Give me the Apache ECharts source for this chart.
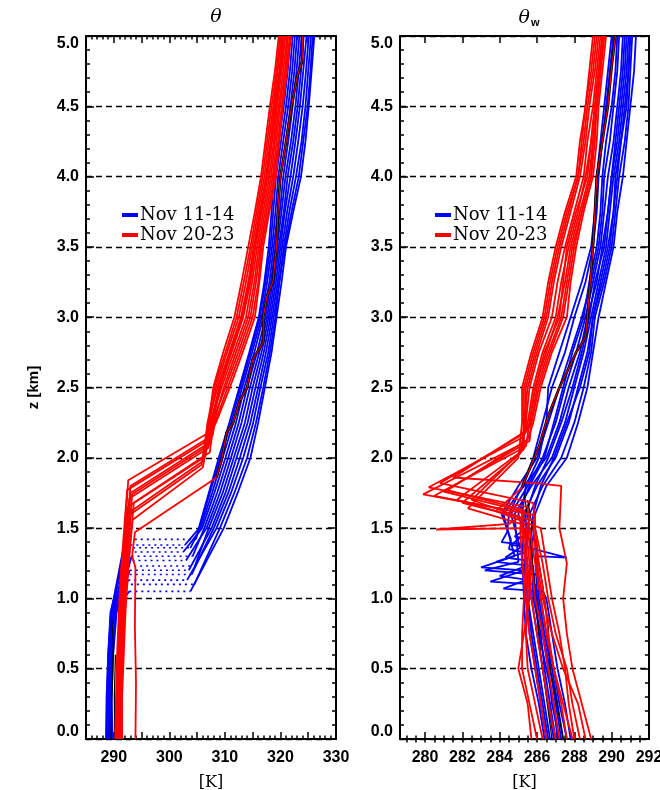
<!DOCTYPE html>
<html>
<head>
<meta charset="utf-8">
<script src="https://cdn.jsdelivr.net/npm/echarts@6/dist/echarts.min.js"></script>
<style>
  html, body { margin: 0; padding: 0; background: #fff; }
  #chart { width: 660px; height: 790px; }
</style>
</head>
<body>
<div id="chart"></div>
<script>
// ---------- axis ticks ----------
const thetaLabelTicks = [290, 300, 310, 320, 330];
const thetaWLabelTicks = [280, 282, 284, 286, 288, 290, 292];

// ---------- theta panel, Nov 11-14 ----------
const zMixBlue = [0, 0.3, 0.6, 0.9];
const thMixBlue = [
  [289.0, 288.9, 289.3, 289.8],
  [288.7, 288.8, 289.0, 289.5],
  [289.4, 289.3, 289.6, 290.1],
  [288.9, 289.1, 289.2, 289.6],
  [289.6, 289.5, 289.8, 290.3],
  [288.6, 288.7, 289.0, 289.4],
  [289.2, 289.2, 289.5, 289.9],
  [289.8, 289.6, 289.9, 290.5],
  [288.8, 289.0, 289.1, 289.5],
  [289.3, 289.4, 289.7, 290.2],
  [289.0, 289.1, 289.4, 289.8],
  [289.5, 289.4, 289.6, 290.0]
];
const zTopBlue = [1.05, 1.10, 1.13, 1.17, 1.20, 1.23, 1.27, 1.30, 1.33, 1.36, 1.38, 1.42];
const thTopBlue = [292.8, 292.0, 292.6, 291.8, 292.9, 291.5, 292.3, 293.2, 291.6, 292.4, 291.9, 292.7];
const thJumpBlue = [303.8, 304.5, 303.2, 304.0, 303.5, 304.6, 303.0, 304.2, 302.5, 303.8, 302.8, 304.8];
const zUpBlue = [1.5, 1.75, 2.0, 2.25, 2.5, 2.75, 3.0, 3.25, 3.5, 3.75, 4.0, 4.25, 4.5, 4.75, 5.0];
const thUpBlue = [
  [309.8, 312.3, 314.6, 316.0, 317.2, 318.4, 319.3, 320.2, 321.0, 322.3, 323.7, 324.5, 325.1, 325.6, 326.1],
  [309.1, 311.7, 314.0, 315.6, 316.9, 318.1, 319.1, 319.8, 320.8, 322.0, 323.3, 324.1, 324.9, 325.4, 325.8],
  [308.5, 311.1, 313.3, 315.1, 316.4, 317.8, 318.8, 319.8, 320.6, 321.6, 322.8, 323.8, 324.5, 325.0, 325.5],
  [308.0, 310.6, 312.7, 314.6, 316.0, 317.4, 318.5, 319.5, 320.3, 321.2, 322.3, 323.2, 324.0, 324.6, 325.1],
  [307.6, 310.1, 312.1, 314.1, 315.5, 317.0, 318.2, 319.2, 320.0, 320.8, 321.8, 322.7, 323.5, 324.1, 324.7],
  [307.1, 309.6, 311.6, 313.6, 315.0, 316.6, 317.9, 318.9, 319.7, 320.6, 321.3, 322.3, 323.1, 323.7, 324.2],
  [306.7, 309.1, 311.1, 313.0, 314.5, 316.2, 317.6, 318.6, 319.4, 320.2, 320.9, 321.9, 322.7, 323.3, 323.8],
  [306.3, 308.6, 310.6, 312.5, 314.0, 315.8, 317.3, 318.3, 319.1, 319.9, 320.5, 321.4, 322.2, 322.9, 323.4],
  [305.9, 308.1, 310.1, 312.0, 313.5, 315.3, 316.9, 318.0, 318.8, 319.5, 320.0, 321.0, 321.8, 322.5, 323.0],
  [305.6, 307.7, 309.6, 311.5, 313.1, 314.9, 316.6, 317.6, 318.5, 319.1, 319.6, 320.5, 321.4, 322.1, 322.6],
  [305.4, 307.3, 309.2, 311.1, 312.8, 314.6, 316.3, 317.3, 318.2, 318.7, 319.2, 320.1, 321.0, 321.7, 322.2],
  [305.3, 307.1, 308.9, 310.8, 312.6, 314.4, 316.1, 317.1, 317.9, 318.4, 318.8, 319.7, 320.6, 321.3, 321.8]
];

// ---------- theta panel, Nov 20-23 ----------
const zMixRed = [0, 0.3, 0.6, 0.9, 1.2];
const thMixRed = [
  [290.6, 290.7, 290.9, 291.2, 291.6],
  [291.0, 291.1, 291.3, 291.6, 292.0],
  [290.3, 290.4, 290.6, 290.9, 291.3],
  [291.3, 291.4, 291.6, 291.9, 292.3],
  [290.8, 290.9, 291.1, 291.4, 291.8],
  [291.5, 291.5, 291.8, 292.1, 292.6],
  [290.5, 290.6, 290.8, 291.1, 291.6],
  [291.1, 291.2, 291.4, 291.7, 292.2],
  [290.7, 290.8, 291.0, 291.3, 291.9],
  [291.2, 291.3, 291.5, 291.8, 292.4],
  [290.9, 291.0, 291.2, 291.5, 292.0]
];
// inversion corners [theta, z]
const invRed = [
  [[292.6, 1.84], [307.6, 2.19]],
  [[293.0, 1.80], [307.8, 2.16]],
  [[292.4, 1.77], [307.2, 2.13]],
  [[293.3, 1.74], [307.5, 2.10]],
  [[292.8, 1.71], [307.0, 2.07]],
  [[293.6, 1.68], [307.3, 2.04]],
  [[292.5, 1.65], [306.5, 2.01], [306.6, 2.12]],
  [[293.1, 1.62], [306.2, 1.98], [306.8, 2.15]],
  [[292.7, 1.59], [305.8, 1.95], [306.5, 2.14]],
  [[293.4, 1.56], [306.0, 1.93], [306.9, 2.10]],
  [[293.0, 1.75], [307.3, 2.11]]
];
const zUpRed = [2.25, 2.5, 2.75, 3.0, 3.25, 3.5, 3.75, 4.0, 4.25, 4.5, 4.75, 5.0];
const thUpRed = [
  [308.4, 310.9, 313.2, 315.4, 316.2, 316.9, 318.0, 319.2, 319.8, 320.4, 321.2, 321.9],
  [308.2, 310.5, 312.8, 315.0, 316.0, 316.6, 317.8, 318.9, 319.6, 320.2, 321.0, 321.7],
  [307.7, 310.1, 312.4, 314.6, 315.6, 316.4, 317.5, 318.6, 319.3, 319.9, 320.8, 321.4],
  [308.0, 309.8, 312.0, 314.2, 315.3, 316.1, 317.2, 318.3, 319.0, 319.7, 320.5, 321.2],
  [307.5, 309.4, 311.6, 313.8, 314.9, 315.8, 316.9, 318.0, 318.8, 319.4, 320.2, 320.9],
  [307.8, 309.1, 311.2, 313.3, 314.6, 315.5, 316.6, 317.7, 318.5, 319.2, 320.0, 320.7],
  [306.9, 308.7, 310.8, 312.9, 314.2, 315.2, 316.3, 317.4, 318.2, 318.9, 319.8, 320.4],
  [307.2, 308.4, 310.4, 312.5, 313.8, 314.9, 316.0, 317.1, 317.9, 318.7, 319.5, 320.2],
  [306.9, 308.1, 310.1, 312.1, 313.4, 314.6, 315.7, 316.8, 317.6, 318.4, 319.3, 319.9],
  [307.1, 307.9, 309.7, 311.7, 313.0, 314.2, 315.4, 316.5, 317.3, 318.1, 319.0, 319.7],
  [307.4, 309.0, 311.0, 313.1, 314.4, 315.3, 316.4, 317.5, 318.3, 319.0, 319.9, 320.5]
];
// warm outlier sounding and its upper part
const thOutlierRed = [[293.9, 0], [294.0, 0.4], [293.8, 0.8], [293.9, 1.22], [293.3, 1.30], [293.8, 1.47], [308.5, 1.86]];
const thDarkRed = [[308.5, 1.86], [309.5, 2.0], [310.3, 2.18], [311.5, 2.25], [312.6, 2.4], [314.0, 2.5], [315.0, 2.7],
  [316.9, 2.82], [316.9, 3.0], [317.6, 3.15], [318.7, 3.26], [319.0, 3.4], [319.3, 3.5], [319.6, 3.8], [320.0, 4.0],
  [320.5, 4.12], [321.2, 4.3], [322.0, 4.5], [323.0, 4.71], [323.9, 4.82], [324.0, 5.0]];
const thBlack = [
  [[289.5, 0], [289.6, 0.2], [289.8, 0.45], [289.9, 0.7], [289.6, 0.85]],
  [[290.2, 0], [290.1, 0.3], [290.3, 0.6]]
];

// ---------- theta_w panel, Nov 11-14 ----------
const zLowW = [0, 0.25, 0.5, 0.75, 1.0];
const twLowBlue = [
  [287.8, 287.5, 287.1, 286.8, 286.5],
  [287.3, 287.0, 286.7, 286.3, 286.0],
  [286.9, 286.6, 286.3, 286.0, 285.7],
  [287.6, 287.2, 286.9, 286.5, 286.2],
  [286.5, 286.2, 285.9, 285.6, 285.4],
  [287.1, 286.9, 286.5, 286.1, 285.9],
  [286.7, 286.4, 286.1, 285.8, 285.5],
  [287.4, 287.1, 286.8, 286.4, 286.1],
  [286.4, 286.1, 285.7, 285.4, 285.3],
  [287.0, 286.7, 286.4, 286.2, 285.8],
  [286.6, 286.3, 286.0, 285.7, 285.5],
  [287.2, 286.8, 286.6, 286.3, 286.0]
];
// cloud-top excursions [theta_w, z]
const twZigBlue = [
  [[286.3, 1.05], [284.2, 1.07], [285.6, 1.14]],
  [[285.9, 1.10], [283.5, 1.12], [285.3, 1.20]],
  [[285.6, 1.13], [284.0, 1.16], [285.2, 1.22]],
  [[286.0, 1.17], [283.2, 1.20], [285.0, 1.26]],
  [[285.3, 1.20], [283.0, 1.22], [284.8, 1.30]],
  [[285.8, 1.23], [283.8, 1.26], [285.4, 1.33]],
  [[285.4, 1.27], [284.3, 1.29], [285.1, 1.36]],
  [[286.0, 1.30], [287.6, 1.29], [285.6, 1.36]],
  [[285.2, 1.33], [284.5, 1.35], [284.6, 1.42]],
  [[285.7, 1.36], [284.6, 1.38], [285.3, 1.45]],
  [[285.4, 1.38], [284.1, 1.40], [284.4, 1.47]],
  [[285.9, 1.42], [284.8, 1.44], [285.5, 1.50]]
];
const zUpW = [1.6, 1.8, 2.0, 2.25, 2.5, 2.75, 3.0, 3.25, 3.5, 3.75, 4.0, 4.25, 4.5, 4.75, 5.0];
const twUpBlue = [
  [285.9, 286.5, 287.6, 288.2, 288.7, 289.0, 289.3, 289.7, 290.1, 290.3, 290.6, 290.8, 291.0, 291.2, 291.3],
  [285.6, 286.3, 287.3, 288.0, 288.5, 288.9, 289.1, 289.6, 290.0, 290.2, 290.4, 290.7, 290.9, 291.0, 291.1],
  [285.3, 286.0, 287.0, 287.7, 288.2, 288.7, 289.0, 289.4, 289.8, 290.1, 290.3, 290.5, 290.7, 290.9, 291.0],
  [284.8, 285.7, 286.8, 287.5, 288.0, 288.5, 288.9, 289.3, 289.7, 289.9, 290.1, 290.4, 290.6, 290.8, 290.9],
  [284.2, 285.3, 286.5, 287.2, 287.7, 288.3, 288.7, 289.2, 289.5, 289.8, 290.0, 290.2, 290.4, 290.6, 290.7],
  [285.4, 285.9, 286.6, 287.3, 287.9, 288.4, 288.8, 289.1, 289.6, 289.8, 290.0, 290.3, 290.5, 290.7, 290.8],
  [284.6, 285.5, 286.3, 287.0, 287.5, 288.1, 288.6, 289.0, 289.4, 289.6, 289.8, 290.1, 290.3, 290.5, 290.6],
  [285.8, 286.2, 286.9, 287.6, 288.3, 288.8, 289.0, 289.5, 289.9, 290.1, 290.2, 290.5, 290.8, 290.9, 291.0],
  [284.1, 285.0, 286.0, 286.6, 287.2, 287.8, 288.4, 288.9, 289.3, 289.5, 289.6, 289.9, 290.1, 290.3, 290.4],
  [285.0, 285.6, 286.4, 286.9, 287.4, 287.9, 288.5, 288.8, 289.2, 289.4, 289.5, 289.7, 290.0, 290.2, 290.3],
  [284.5, 285.2, 285.8, 286.3, 286.8, 287.5, 288.0, 288.6, 289.0, 289.2, 289.3, 289.5, 289.7, 289.9, 290.1],
  [285.2, 285.4, 286.1, 286.5, 286.6, 287.2, 287.8, 288.4, 288.9, 289.1, 289.2, 289.4, 289.6, 289.8, 290.0]
];

// ---------- theta_w panel, Nov 20-23 ----------
const zLowWRed = [0, 0.25, 0.5, 0.75, 1.0, 1.25, 1.5];
const twLowRed = [
  [288.9, 288.4, 287.9, 287.6, 287.4, 287.6, 287.2],
  [288.3, 287.9, 287.6, 287.0, 286.6, 286.3, 285.9],
  [287.6, 287.3, 286.9, 286.5, 286.2, 285.9, 285.6],
  [286.0, 285.6, 285.2, 285.2, 285.3, 285.4, 285.2],
  [287.2, 286.9, 286.6, 286.3, 285.9, 285.7, 285.5],
  [288.6, 288.2, 287.4, 286.8, 286.3, 286.0, 285.8],
  [286.5, 286.2, 285.9, 285.6, 285.4, 285.2, 285.1],
  [287.9, 287.4, 286.9, 286.6, 286.4, 286.1, 285.9],
  [285.7, 285.5, 285.0, 285.3, 285.6, 285.5, 285.3],
  [287.0, 286.6, 286.3, 286.0, 285.7, 285.6, 285.4],
  [286.3, 285.9, 285.5, 285.4, 285.5, 285.4, 285.2]
];
// inversion excursions [theta_w, z]
const twInvRed = [
  [[287.3, 1.80], [285.9, 1.82], [281.5, 1.86], [285.5, 2.20]],
  [[285.8, 1.68], [280.8, 1.82], [285.4, 2.18]],
  [[285.5, 1.65], [280.2, 1.79], [285.3, 2.15]],
  [[285.3, 1.63], [281.2, 1.77], [285.5, 2.13]],
  [[285.6, 1.60], [279.9, 1.74], [285.2, 2.10]],
  [[285.9, 1.59], [280.5, 1.73], [285.4, 2.08]],
  [[285.2, 1.57], [281.7, 1.70], [285.3, 2.06]],
  [[285.9, 1.55], [282.0, 1.68], [285.1, 2.03]],
  [[280.6, 1.49], [284.5, 1.53], [285.1, 1.58], [282.5, 1.70], [285.2, 2.05]],
  [[285.4, 1.52], [282.3, 1.64], [285.0, 2.00]],
  [[285.2, 1.62], [281.0, 1.76], [285.6, 2.12]]
];
const zUpWRed = [2.25, 2.5, 2.75, 3.0, 3.25, 3.5, 3.75, 4.0, 4.25, 4.5, 4.75, 5.0];
const twUpRed = [
  [285.7, 286.0, 286.6, 287.3, 287.6, 287.9, 288.4, 288.9, 289.1, 289.2, 289.4, 289.6],
  [285.6, 285.9, 286.5, 287.1, 287.5, 287.8, 288.3, 288.8, 289.0, 289.2, 289.4, 289.5],
  [285.5, 285.8, 286.3, 287.0, 287.3, 287.7, 288.2, 288.6, 288.9, 289.1, 289.3, 289.5],
  [285.8, 286.2, 286.8, 287.6, 287.8, 288.1, 288.5, 289.0, 289.2, 289.3, 289.5, 289.7],
  [285.4, 285.6, 286.1, 286.8, 287.1, 287.5, 288.0, 288.5, 288.7, 289.0, 289.2, 289.4],
  [285.6, 285.9, 286.4, 287.2, 287.4, 287.6, 288.1, 288.7, 288.9, 289.1, 289.3, 289.5],
  [285.3, 285.5, 286.0, 286.6, 286.9, 287.3, 287.8, 288.3, 288.6, 288.8, 289.1, 289.3],
  [285.4, 285.4, 285.9, 286.5, 286.8, 287.2, 287.7, 288.2, 288.5, 288.7, 289.0, 289.2],
  [285.3, 285.3, 285.8, 286.4, 286.7, 287.1, 287.6, 288.2, 288.4, 288.6, 288.9, 289.1],
  [285.2, 285.2, 285.7, 286.3, 286.6, 287.0, 287.5, 288.1, 288.3, 288.6, 288.8, 289.0],
  [285.7, 286.1, 286.7, 287.4, 287.7, 288.0, 288.4, 288.9, 289.0, 289.2, 289.4, 289.6]
];
const twOutlierRed = [[288.0, 0], [287.7, 0.25], [287.5, 0.5], [287.2, 0.75], [286.8, 1.0], [286.5, 1.25],
  [286.2, 1.5], [283.8, 1.62], [285.2, 1.79]];
const twDarkRed = [[285.2, 1.79], [286.1, 2.08], [286.6, 2.3], [287.2, 2.5], [288.1, 2.75], [288.6, 2.86],
  [288.7, 3.0], [289.0, 3.5], [289.2, 4.0], [289.8, 4.5], [290.0, 4.78], [290.2, 5.0]];
const twBlack = [
  [[286.8, 0], [286.5, 0.3], [286.2, 0.6], [286.0, 0.9], [285.8, 1.2], [285.6, 1.5], [285.3, 1.75]],
  [[287.4, 0], [287.0, 0.3], [286.7, 0.5], [286.6, 0.8], [286.3, 1.1], [285.9, 1.4], [285.5, 1.7]]
];

// ---------- build series ----------
const BLUE = '#0000ff', RED = '#ff0000', BLACK = '#000000';
const NAME_A = 'Nov 11-14', NAME_B = 'Nov 20-23';
const LW = 1.8;
const zip = (zs, vals) => vals.map((v, i) => [v, zs[i]]);

function line(panel, name, color, data, opts) {
  const o = opts || {};
  return {
    type: 'line', name: name, xAxisIndex: panel === 0 ? 0 : 2, yAxisIndex: panel === 0 ? 0 : 2,
    data: data, showSymbol: false, symbol: 'none', silent: true, animation: false, color: color,
    lineStyle: { color: color, width: o.width || LW, type: o.type || 'solid' },
    z: o.z || 2
  };
}

const series = [];
// theta, Nov 11-14
thMixBlue.forEach((vals, i) => {
  const top = [thTopBlue[i], zTopBlue[i]];
  const jump = [thJumpBlue[i], zTopBlue[i]];
  series.push(line(0, NAME_A, BLUE, zip(zMixBlue, vals).concat([top])));
  series.push(line(0, NAME_A, BLUE, [top, jump], { type: [2, 4], width: 1.6 }));
  series.push(line(0, NAME_A, BLUE, [jump].concat(zip(zUpBlue, thUpBlue[i]))));
});
// theta_w, Nov 11-14
twLowBlue.forEach((vals, i) => {
  series.push(line(1, NAME_A, BLUE, zip(zLowW, vals).concat(twZigBlue[i], zip(zUpW, twUpBlue[i]))));
});
// black soundings
thBlack.forEach(d => series.push(line(0, '', BLACK, d, { width: 1.2, z: 3 })));
twBlack.forEach(d => series.push(line(1, '', BLACK, d, { width: 1.2, z: 3 })));
// theta, Nov 20-23
thMixRed.forEach((vals, i) => {
  series.push(line(0, NAME_B, RED, zip(zMixRed, vals).concat(invRed[i], zip(zUpRed, thUpRed[i])), { z: 4 }));
});
series.push(line(0, NAME_B, RED, thOutlierRed, { z: 4 }));
// theta_w, Nov 20-23
twLowRed.forEach((vals, i) => {
  series.push(line(1, NAME_B, RED, zip(zLowWRed, vals).concat(twInvRed[i], zip(zUpWRed, twUpRed[i])), { z: 4 }));
});
series.push(line(1, NAME_B, RED, twOutlierRed, { z: 4 }));
// outlined sounding (black under red)
series.push(line(0, '', BLACK, thDarkRed, { width: 2.6, z: 5 }));
series.push(line(0, '', RED, thDarkRed, { width: 1, z: 6 }));
series.push(line(1, '', BLACK, twDarkRed, { width: 2.6, z: 5 }));
series.push(line(1, '', RED, twDarkRed, { width: 1, z: 6 }));

// ---------- axes ----------
const SANS = '"Liberation Sans", Arial, sans-serif';
const SERIF = '"DejaVu Serif", "Liberation Serif", serif';
const tickLine = { color: '#000', width: 1.5 };
const frameLine = { show: true, onZero: false, lineStyle: { color: '#000', width: 2 } };
const tickLabel = { fontFamily: SANS, fontWeight: 'bold', fontSize: 16, color: '#000' };

function yAxis(grid, pos, withLabels) {
  return {
    type: 'value', gridIndex: grid, position: pos, min: 0, max: 5, interval: 0.5,
    axisLine: frameLine,
    axisTick: { show: true, inside: true, length: 8, lineStyle: tickLine },
    minorTick: { show: true, splitNumber: 5, length: 4, lineStyle: tickLine },
    axisLabel: withLabels ? Object.assign({
      margin: 7,
      // the bottom label sits a little above its tick
      formatter: v => (v === 0 ? '{lo|' + v.toFixed(1) + '}' : v.toFixed(1)),
      rich: { lo: Object.assign({ padding: [0, 0, 14, 0] }, tickLabel) },
      verticalAlignMaxLabel: 'top'
    }, tickLabel) : { show: false },
    splitLine: withLabels ? { show: true, lineStyle: { type: [6, 4], color: '#000', width: 1.3 } } : { show: false }
  };
}

function thetaX(pos, withLabels) {
  const ax = {
    type: 'value', gridIndex: 0, position: pos, min: 285, max: 330, interval: 5,
    axisLine: frameLine,
    axisTick: { show: true, inside: true, length: 7, lineStyle: tickLine },
    minorTick: { show: true, splitNumber: 5, length: 3.5, lineStyle: tickLine },
    axisLabel: withLabels ? Object.assign({
      margin: 11, showMaxLabel: true, showMinLabel: true,
      formatter: v => (thetaLabelTicks.indexOf(v) >= 0 ? String(v) : '')
    }, tickLabel) : { show: false },
    splitLine: { show: false }
  };
  if (withLabels) {
    ax.name = '[K]'; ax.nameLocation = 'middle'; ax.nameGap = 36;
    ax.nameTextStyle = { fontFamily: SERIF, fontSize: 16, color: '#000' };
  }
  return ax;
}

const W_MIN = 278.66, W_MAX = 292;
const thetaWMinorTicks = [];
for (let t = 279; t <= 291.5; t += 0.5) thetaWMinorTicks.push(t);

function thetaWX(pos, major, withLabels) {
  const ax = {
    type: 'value', gridIndex: 1, position: pos, min: W_MIN, max: W_MAX, offset: 0,
    axisLine: major ? frameLine : { show: false },
    axisTick: { show: true, inside: true, length: major ? 7 : 3.5, lineStyle: tickLine,
      customValues: major ? thetaWLabelTicks : thetaWMinorTicks },
    axisLabel: withLabels ? Object.assign({ margin: 11, customValues: thetaWLabelTicks }, tickLabel) : { show: false },
    splitLine: { show: false }
  };
  if (withLabels) {
    ax.name = '[K]'; ax.nameLocation = 'middle'; ax.nameGap = 36;
    ax.nameTextStyle = { fontFamily: SERIF, fontSize: 16, color: '#000' };
  }
  return ax;
}

const yLeft = yAxis(0, 'left', true);
yLeft.name = 'z [km]';
yLeft.nameLocation = 'middle';
yLeft.nameGap = 45;
yLeft.nameTextStyle = { fontFamily: SANS, fontWeight: 'bold', fontSize: 15, color: '#000' };

const legendText = { fontFamily: SERIF, fontSize: 18, color: '#000', lineHeight: 18, padding: [0, 0, 0, -3] };
function legend(left) {
  return {
    orient: 'vertical', left: left, top: 201, itemGap: 2, itemWidth: 16, itemHeight: 4,
    icon: 'rect', selectedMode: false, textStyle: legendText,
    data: [NAME_A, NAME_B]
  };
}

const option = {
  animation: false,
  backgroundColor: '#fff',
  title: [
    { text: 'θ', left: 211, top: 3, textAlign: 'center',
      textStyle: { fontFamily: SERIF, fontStyle: 'italic', fontWeight: 'normal', fontSize: 19, color: '#000' } },
    { text: '{a|θ}{b|w}', left: 524, top: 3, textAlign: 'center',
      textStyle: { rich: {
        a: { fontFamily: SERIF, fontStyle: 'italic', fontWeight: 'normal', fontSize: 19, color: '#000' },
        b: { fontFamily: SANS, fontWeight: 'bold', fontSize: 11, color: '#000', padding: [9, 0, 0, 1] }
      } } }
  ],
  legend: [legend(117), legend(430)],
  grid: [
    { left: 86, top: 36, width: 250, height: 703, containLabel: false, outerBoundsMode: 'none' },
    { left: 400, top: 36, width: 249, height: 703, containLabel: false, outerBoundsMode: 'none' }
  ],
  xAxis: [
    thetaX('bottom', true),
    thetaX('top', false),
    thetaWX('bottom', true, true),
    thetaWX('bottom', false, false),
    thetaWX('top', true, false),
    thetaWX('top', false, false)
  ],
  yAxis: [yLeft, yAxis(0, 'right', false), yAxis(1, 'left', true), yAxis(1, 'right', false)],
  series: series
};

const chart = echarts.init(document.getElementById('chart'), null, { renderer: 'canvas' });
chart.setOption(option);
</script>
</body>
</html>
